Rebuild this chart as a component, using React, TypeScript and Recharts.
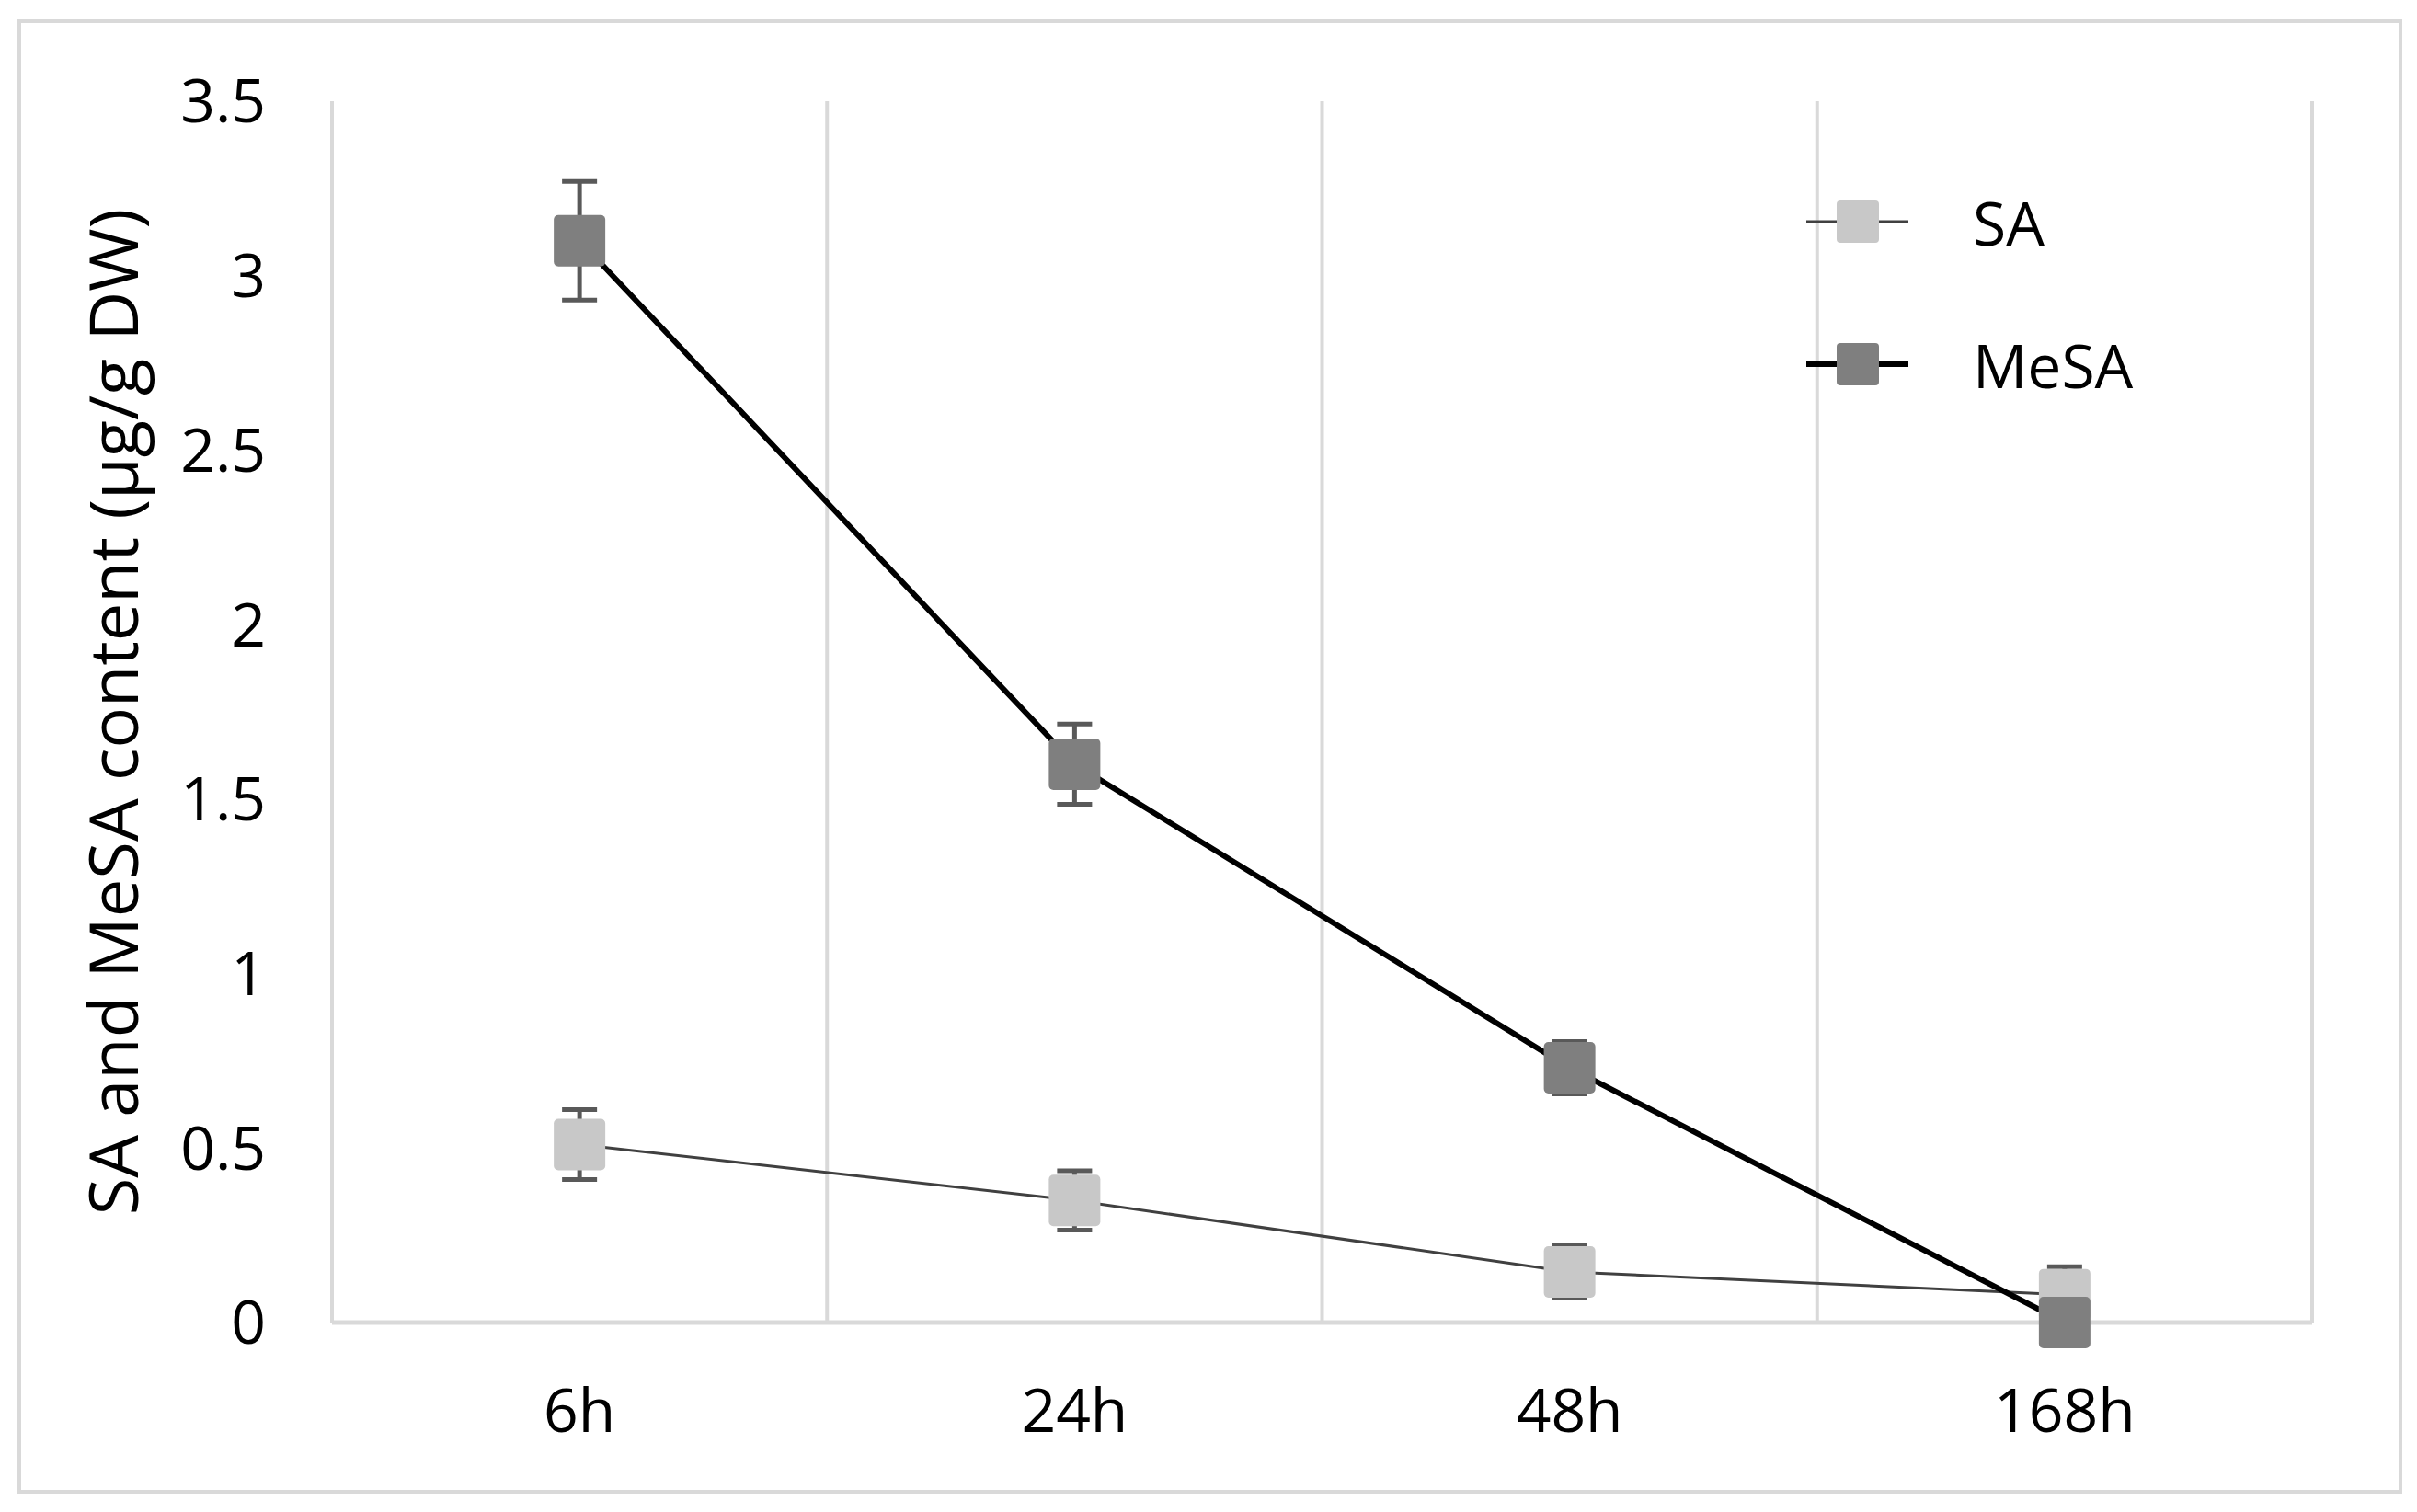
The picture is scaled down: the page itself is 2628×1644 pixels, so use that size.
import React from 'react';
import { LineChart, Line, XAxis, YAxis, ErrorBar, CartesianGrid, Legend } from 'recharts';

const categories = ['6h', '24h', '48h', '168h'];
const saValues = [0.51, 0.35, 0.145, 0.08];
const saErrors = [0.1, 0.085, 0.075, 0.08];
const mesaValues = [3.1, 1.6, 0.73, 0.0];
const mesaErrors = [0.17, 0.115, 0.075, 0];
const yTicks = [0, 0.5, 1, 1.5, 2, 2.5, 3, 3.5];
const categoryBoundaries = [0, 1, 2, 3, 4];
const seriesNames = ['SA', 'MeSA'];
const yLabel = 'SA and MeSA content (\u00b5g/g DW)';

const data = categories.map((c, i) => ({
  time: c,
  SA: saValues[i],
  SAerr: saErrors[i],
  MeSA: mesaValues[i],
  MeSAerr: mesaErrors[i],
}));

const FONT = "'Open Sans', 'DejaVu Sans', sans-serif";
const SA_FILL = '#c8c8c8';
const MESA_FILL = '#7f7f7f';
const SA_LINE = '#404040';
const MESA_LINE = '#000000';
const ERR = '#595959';
const GRID = '#d9d9d9';

const styleFor: Record<string, { fill: string; line: string; lw: number }> = {
  SA: { fill: SA_FILL, line: SA_LINE, lw: 3 },
  MeSA: { fill: MESA_FILL, line: MESA_LINE, lw: 6 },
};

const makeDot = (fill: string) => (props: any) => {
  const { cx, cy, index } = props;
  if (cx == null || cy == null) return <g key={`d-${index}`} />;
  return (
    <rect key={`d-${index}`} x={cx - 28} y={cy - 28} width={56} height={56} rx={5} ry={5} fill={fill} />
  );
};

const boundaryGenerator = (props: any) => {
  const off = props.offset || { left: 361, width: 2153 };
  return categoryBoundaries.map((b) => off.left + (b * off.width) / categories.length);
};

const renderLegend = (props: any) => {
  const items = [...(props.payload || [])].sort(
    (a: any, b: any) => seriesNames.indexOf(a.value) - seriesNames.indexOf(b.value)
  );
  return (
    <svg width={420} height={300} style={{ display: 'block' }}>
      {items.map((it: any, i: number) => {
        const st = styleFor[it.value] || styleFor.SA;
        const y = 50 + i * 155;
        return (
          <g key={it.value}>
            <line x1={4} x2={115} y1={y} y2={y} stroke={st.line} strokeWidth={st.lw} />
            <rect x={60 - 23} y={y - 23} width={46} height={46} rx={4} ry={4} fill={st.fill} />
            <text x={185} y={y} dominantBaseline="central" fontSize={66} fontFamily={FONT} fill="#000">
              {it.value}
            </text>
          </g>
        );
      })}
    </svg>
  );
};

const renderYLabel = (props: any) => {
  const vb = props.viewBox || { x: 0, y: 110, width: 361, height: 1328 };
  const cx = 150;
  const cy = vb.y + vb.height / 2;
  return (
    <text
      x={cx}
      y={cy}
      transform={`rotate(-90, ${cx}, ${cy})`}
      textAnchor="middle"
      fontSize={74}
      fontFamily={FONT}
      fill="#000"
    >
      {yLabel}
    </text>
  );
};

export default function App() {
  return (
    <div style={{ position: 'absolute', left: 0, top: 0, width: 2628, height: 1644, background: '#fff', fontFamily: FONT }}>
      <div
        style={{
          position: 'absolute',
          left: 19,
          top: 21,
          width: 2593,
          height: 1603,
          border: `4px solid ${GRID}`,
          boxSizing: 'border-box',
        }}
      />
      <div style={{ position: 'absolute', left: 0, top: 0 }}>
        <LineChart
          width={2628}
          height={1644}
          data={data}
          margin={{ top: 110, right: 114, bottom: 146, left: 0 }}
        >
          <CartesianGrid
            horizontal={false}
            vertical
            stroke={GRID}
            strokeWidth={4}
            verticalCoordinatesGenerator={boundaryGenerator}
          />
          <XAxis
            dataKey="time"
            scale="band"
            height={60}
            tickLine={false}
            axisLine={{ stroke: GRID, strokeWidth: 5 }}
            tickSize={0}
            tickMargin={72}
            tick={{ fontSize: 66, fill: '#000', fontFamily: FONT }}
          />
          <YAxis
            width={361}
            domain={[0, 3.5]}
            ticks={yTicks}
            tickLine={false}
            axisLine={false}
            tickSize={0}
            tickMargin={72}
            tick={{ fontSize: 66, fill: '#000', fontFamily: FONT }}
            label={renderYLabel}
          />
          <Legend
            layout="horizontal"
            verticalAlign="middle"
            align="center"
            wrapperStyle={{ position: 'absolute', left: 1960, top: 191, width: 420, height: 300 }}
            content={renderLegend}
          />
          <Line
            type="linear"
            dataKey="SA"
            name="SA"
            stroke={SA_LINE}
            strokeWidth={3}
            dot={makeDot(SA_FILL)}
            activeDot={false}
            isAnimationActive={false}
          >
            <ErrorBar dataKey="SAerr" direction="y" width={19} stroke={ERR} strokeWidth={5} isAnimationActive={false} />
          </Line>
          <Line
            type="linear"
            dataKey="MeSA"
            name="MeSA"
            stroke={MESA_LINE}
            strokeWidth={6}
            dot={makeDot(MESA_FILL)}
            activeDot={false}
            isAnimationActive={false}
          >
            <ErrorBar dataKey="MeSAerr" direction="y" width={19} stroke={ERR} strokeWidth={5} isAnimationActive={false} />
          </Line>
        </LineChart>
      </div>
    </div>
  );
}
